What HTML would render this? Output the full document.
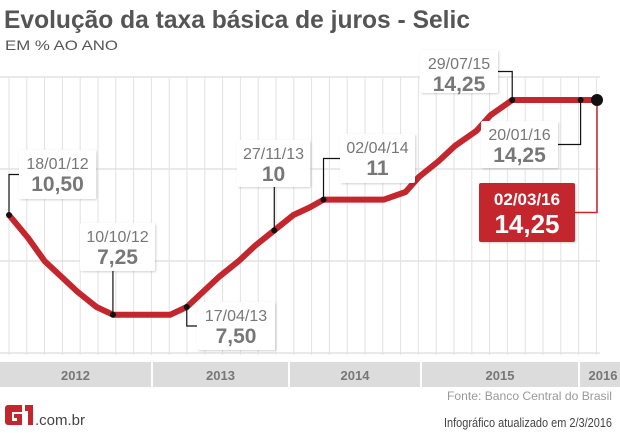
<!DOCTYPE html>
<html><head><meta charset="utf-8"><style>
body{margin:0;width:620px;height:433px;background:#fff;overflow:hidden;font-family:"Liberation Sans",sans-serif}
svg{display:block}
</style></head><body>
<svg id="c" width="620" height="433">
<defs><filter id="sh" x="-10%" y="-10%" width="130%" height="130%"><feDropShadow dx="1" dy="1" stdDeviation="1" flood-color="#000" flood-opacity="0.18"/></filter></defs>
<text x="4" y="28" font-size="25" font-weight="bold" fill="#555" textLength="466" lengthAdjust="spacingAndGlyphs">Evolução da taxa básica de juros - Selic</text>
<text x="5" y="50" font-size="14" fill="#555" textLength="113" lengthAdjust="spacingAndGlyphs">EM % AO ANO</text>
<g id="grid"></g>
<g id="years"></g>
<g id="line"></g>
<g id="labels"></g>
<text x="612" y="400" font-size="12" fill="#999" text-anchor="end" textLength="165" lengthAdjust="spacingAndGlyphs">Fonte: Banco Central do Brasil</text>
<g>
<path d="M22 405 h-14 a3 3 0 0 0 -3 3 v14 a3 3 0 0 0 3 3 h14 v-11 h-8 v4 h3 v3 h-5 v-9 h10 z" fill="#c4262e"/>
<path d="M25 405 h8 v20 h-5 v-14 h-3 z" fill="#c4262e"/>
</g>
<text x="35" y="425" font-size="15" fill="#444">.com.br</text>
<text x="612" y="427" font-size="13" fill="#444" text-anchor="end" textLength="168" lengthAdjust="spacingAndGlyphs">Infográfico atualizado em 2/3/2016</text>
</svg>
<script>
const dates=["2012-01-18","2012-03-07","2012-04-18","2012-05-30","2012-07-11","2012-08-29","2012-10-10","2013-01-16","2013-03-06","2013-04-17","2013-05-29","2013-07-10","2013-08-28","2013-10-09","2013-11-27","2014-01-15","2014-02-26","2014-04-02","2014-09-03","2014-10-29","2014-12-03","2015-01-21","2015-03-04","2015-04-29","2015-06-03","2015-07-29","2016-01-20","2016-03-02"];
const rates=[10.5,9.75,9,8.5,8,7.5,7.25,7.25,7.25,7.5,8,8.5,9,9.5,10,10.5,10.75,11,11,11.25,11.75,12.25,12.75,13.25,13.75,14.25,14.25,14.25];
const years=["2012","2013","2014","2015","2016"];
const annDates=["18/01/12","10/10/12","17/04/13","27/11/13","02/04/14","29/07/15","20/01/16","02/03/16"];
const annValues=["10,50","7,25","7,50","10","11","14,25","14,25","14,25"];
const annIdx=[0,6,9,14,17,25,26,27];
</script>
<script>
const NS="http://www.w3.org/2000/svg";
const t0=Date.parse(dates[0]),t1=Date.parse(dates[dates.length-1]);
const X=d=>9+(Date.parse(d)-t0)/(t1-t0)*588;
const Y=v=>77+(15-v)*30.67;
function mk(p,tag,a){const e=document.createElementNS(NS,tag);for(const k in a)e.setAttribute(k,a[k]);p.appendChild(e);return e;}
const g=document.getElementById('grid');
for(let x=9;x<=600;x+=17.8){const l=mk(g,'line',{x1:x,y1:77,x2:x,y2:355,stroke:'#e2e2e2','stroke-width':1});

}
for(const v of [15,12,9,6]){const l=mk(g,'line',{x1:0,y1:Y(v),x2:600,y2:Y(v),stroke:'#e2e2e2','stroke-width':1.5});

}
const yg=document.getElementById('years');
const yb=[[0,151],[153,288],[290,420],[422,578],[580,620]];
years.forEach((y,i)=>{const r=mk(yg,'rect',{x:yb[i][0],y:362,width:yb[i][1]-yb[i][0],height:25,fill:'#dcdcdc'});


const t=mk(yg,'text',{x:(yb[i][0]+yb[i][1])/2+(i==4?3:0),y:380,'font-size':13,'font-weight':'bold',fill:'#777','text-anchor':'middle'});t.textContent=y;

});
const lg=document.getElementById('line');
const pl=mk(lg,'polyline',{points:dates.map((d,i)=>X(d)+','+Y(rates[i])).join(' '),fill:'none',stroke:'#c4262e','stroke-width':6,'stroke-linejoin':'round'});


const box=[[19,150,77,49],[80,223,75,48],[197,302,78,48],[237,140,73,47],[340,134,75,49],[420,50,78,43],[481,121,77,47],[479,183,96,59]];
const lab=document.getElementById('labels');
annIdx.forEach((k,i)=>{const px=X(dates[k]),py=Y(rates[k]);const [bx,by,w,h]=box[i];const red=i==7;
let d;
if(bx>px){const my=by+h/2;d=`M${px} ${py} V${my} H${bx}`;}
else if(bx+w<px){const my=by+h/2;d=`M${px} ${py} V${my} H${bx+w}`;}
else{d=`M${px} ${py} V${py>by?by+h:by}`;}
const ld=mk(lab,'path',{d,fill:'none',stroke:red?'#c4262e':'#111','stroke-width':red?1.5:1.2});


const dot=mk(lab,'circle',{cx:px,cy:py,r:red?6:3,fill:'#111'});


const r=mk(lab,'rect',{x:bx,y:by,width:w,height:h,fill:red?'#c4262e':'#fff',rx:2,filter:'url(#sh)'});


const t1=mk(lab,'text',{x:bx+w/2,y:by+(red?22:19),'font-size':red?17:16,'font-weight':red?'bold':'normal',fill:red?'#fff':'#777','text-anchor':'middle'});t1.textContent=annDates[i];


const t2=mk(lab,'text',{x:bx+w/2,y:by+(red?50:41),'font-size':red?26:21,'font-weight':'bold',fill:red?'#fff':'#777','text-anchor':'middle'});t2.textContent=annValues[i];

});
</script>
</body></html>
